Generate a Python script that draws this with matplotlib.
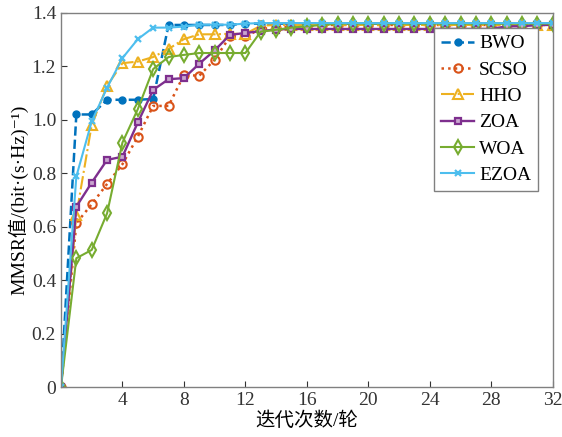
import numpy as np
import matplotlib
matplotlib.use("Agg")
import matplotlib.pyplot as plt

plt.rcParams['font.family'] = ['Liberation Serif', 'Noto Sans CJK SC', 'DejaVu Sans']

# 迭代次数 0..32
iters = np.arange(0, 33)

BWO = [0, 1.02, 1.02, 1.075, 1.075, 1.075, 1.078, 1.355, 1.355, 1.355, 1.355,
       1.355, 1.36, 1.36, 1.36, 1.36, 1.36, 1.36, 1.36, 1.36, 1.36, 1.36,
       1.36, 1.36, 1.36, 1.36, 1.36, 1.36, 1.36, 1.36, 1.36, 1.36, 1.36]
SCSO = [0, 0.613, 0.684, 0.76, 0.834, 0.937, 1.052, 1.052, 1.168, 1.165, 1.225,
        1.312, 1.312, 1.34, 1.345, 1.35, 1.35, 1.355, 1.355, 1.355, 1.355, 1.355,
        1.355, 1.355, 1.355, 1.355, 1.355, 1.355, 1.355, 1.355, 1.355, 1.355, 1.355]
HHO = [0, 0.644, 0.981, 1.127, 1.212, 1.218, 1.235, 1.265, 1.302, 1.32, 1.32,
       1.322, 1.322, 1.352, 1.355, 1.355, 1.355, 1.355, 1.355, 1.355, 1.355, 1.355,
       1.355, 1.355, 1.355, 1.355, 1.355, 1.355, 1.355, 1.355, 1.355, 1.355, 1.355]
ZOA = [0, 0.675, 0.765, 0.85, 0.862, 0.99, 1.112, 1.152, 1.156, 1.21, 1.26,
       1.318, 1.325, 1.332, 1.338, 1.34, 1.34, 1.34, 1.34, 1.34, 1.34, 1.34,
       1.34, 1.34, 1.34, 1.34, 1.34, 1.34, 1.34, 1.35, 1.35, 1.355, 1.355]
WOA = [0, 0.482, 0.513, 0.65, 0.915, 1.04, 1.19, 1.235, 1.243, 1.25, 1.25,
       1.25, 1.25, 1.33, 1.337, 1.345, 1.35, 1.355, 1.36, 1.36, 1.36, 1.36,
       1.36, 1.36, 1.36, 1.36, 1.36, 1.36, 1.36, 1.36, 1.36, 1.36, 1.36]
EZOA = [0, 0.788, 0.994, 1.12, 1.231, 1.302, 1.345, 1.345, 1.349, 1.356, 1.356,
        1.356, 1.36, 1.362, 1.362, 1.362, 1.362, 1.362, 1.362, 1.362, 1.362, 1.362,
        1.362, 1.362, 1.362, 1.362, 1.362, 1.362, 1.362, 1.362, 1.362, 1.362, 1.362]

xticks = [4, 8, 12, 16, 20, 24, 28, 32]
yticks = [0, 0.2, 0.4, 0.6, 0.8, 1.0, 1.2, 1.4]
ytick_labels = ["0", "0.2", "0.4", "0.6", "0.8", "1.0", "1.2", "1.4"]

fig = plt.figure(figsize=(5.62, 4.37), dpi=100)
ax = fig.add_axes([0.1085, 0.1144, 0.875, 0.856])

lw = 1.5
ms = 5
ax.plot(iters, BWO, color="#0072BD", linestyle="--", marker="o", markersize=ms,
        linewidth=lw + 0.3, label="BWO")
ax.plot(iters, SCSO, color="#D95319", linestyle=":", marker="o", markersize=ms + 1,
        markerfacecolor="none", markeredgewidth=1.5, linewidth=lw + 0.3, label="SCSO")
ax.plot(iters, HHO, color="#EDB120", linestyle="-.", marker="^", markersize=ms + 2,
        markerfacecolor="none", markeredgewidth=1.5, linewidth=lw, label="HHO")
ax.plot(iters, ZOA, color="#7E2F8E", linestyle="-", marker="s", markersize=ms,
        markerfacecolor="#C9A6CF", markeredgewidth=1.6, linewidth=lw + 0.2, label="ZOA")
ax.plot(iters, WOA, color="#77AC30", linestyle="-", marker="d", markersize=ms + 2,
        markerfacecolor="none", markeredgewidth=1.5, linewidth=lw, label="WOA")
ax.plot(iters, EZOA, color="#4DBEEE", linestyle="-", marker="x", markersize=ms,
        markeredgewidth=1.6, linewidth=lw, label="EZOA")

ax.set_xlim(0, 32)
ax.set_ylim(0, 1.4)
ax.set_xticks(xticks)
ax.set_yticks(yticks)
ax.set_yticklabels(ytick_labels)
ax.tick_params(direction="in", labelsize=14, colors="#333333", length=4)
for s in ax.spines.values():
    s.set_color("#808080")
    s.set_linewidth(1.0)

ax.set_xlabel("迭代次数/轮", fontsize=14, labelpad=2)
ax.set_ylabel("MMSR值/(bit·(s·Hz)⁻¹)", fontsize=14, labelpad=2)

leg = ax.legend(loc="upper right", bbox_to_anchor=(0.97, 0.96), borderaxespad=0,
                fontsize=14, fancybox=False, edgecolor="#808080", framealpha=1,
                handlelength=1.7, labelspacing=0.45, borderpad=0.35, handletextpad=0.25)
leg.get_frame().set_linewidth(1.0)

fig.savefig("out.png", dpi=100)
